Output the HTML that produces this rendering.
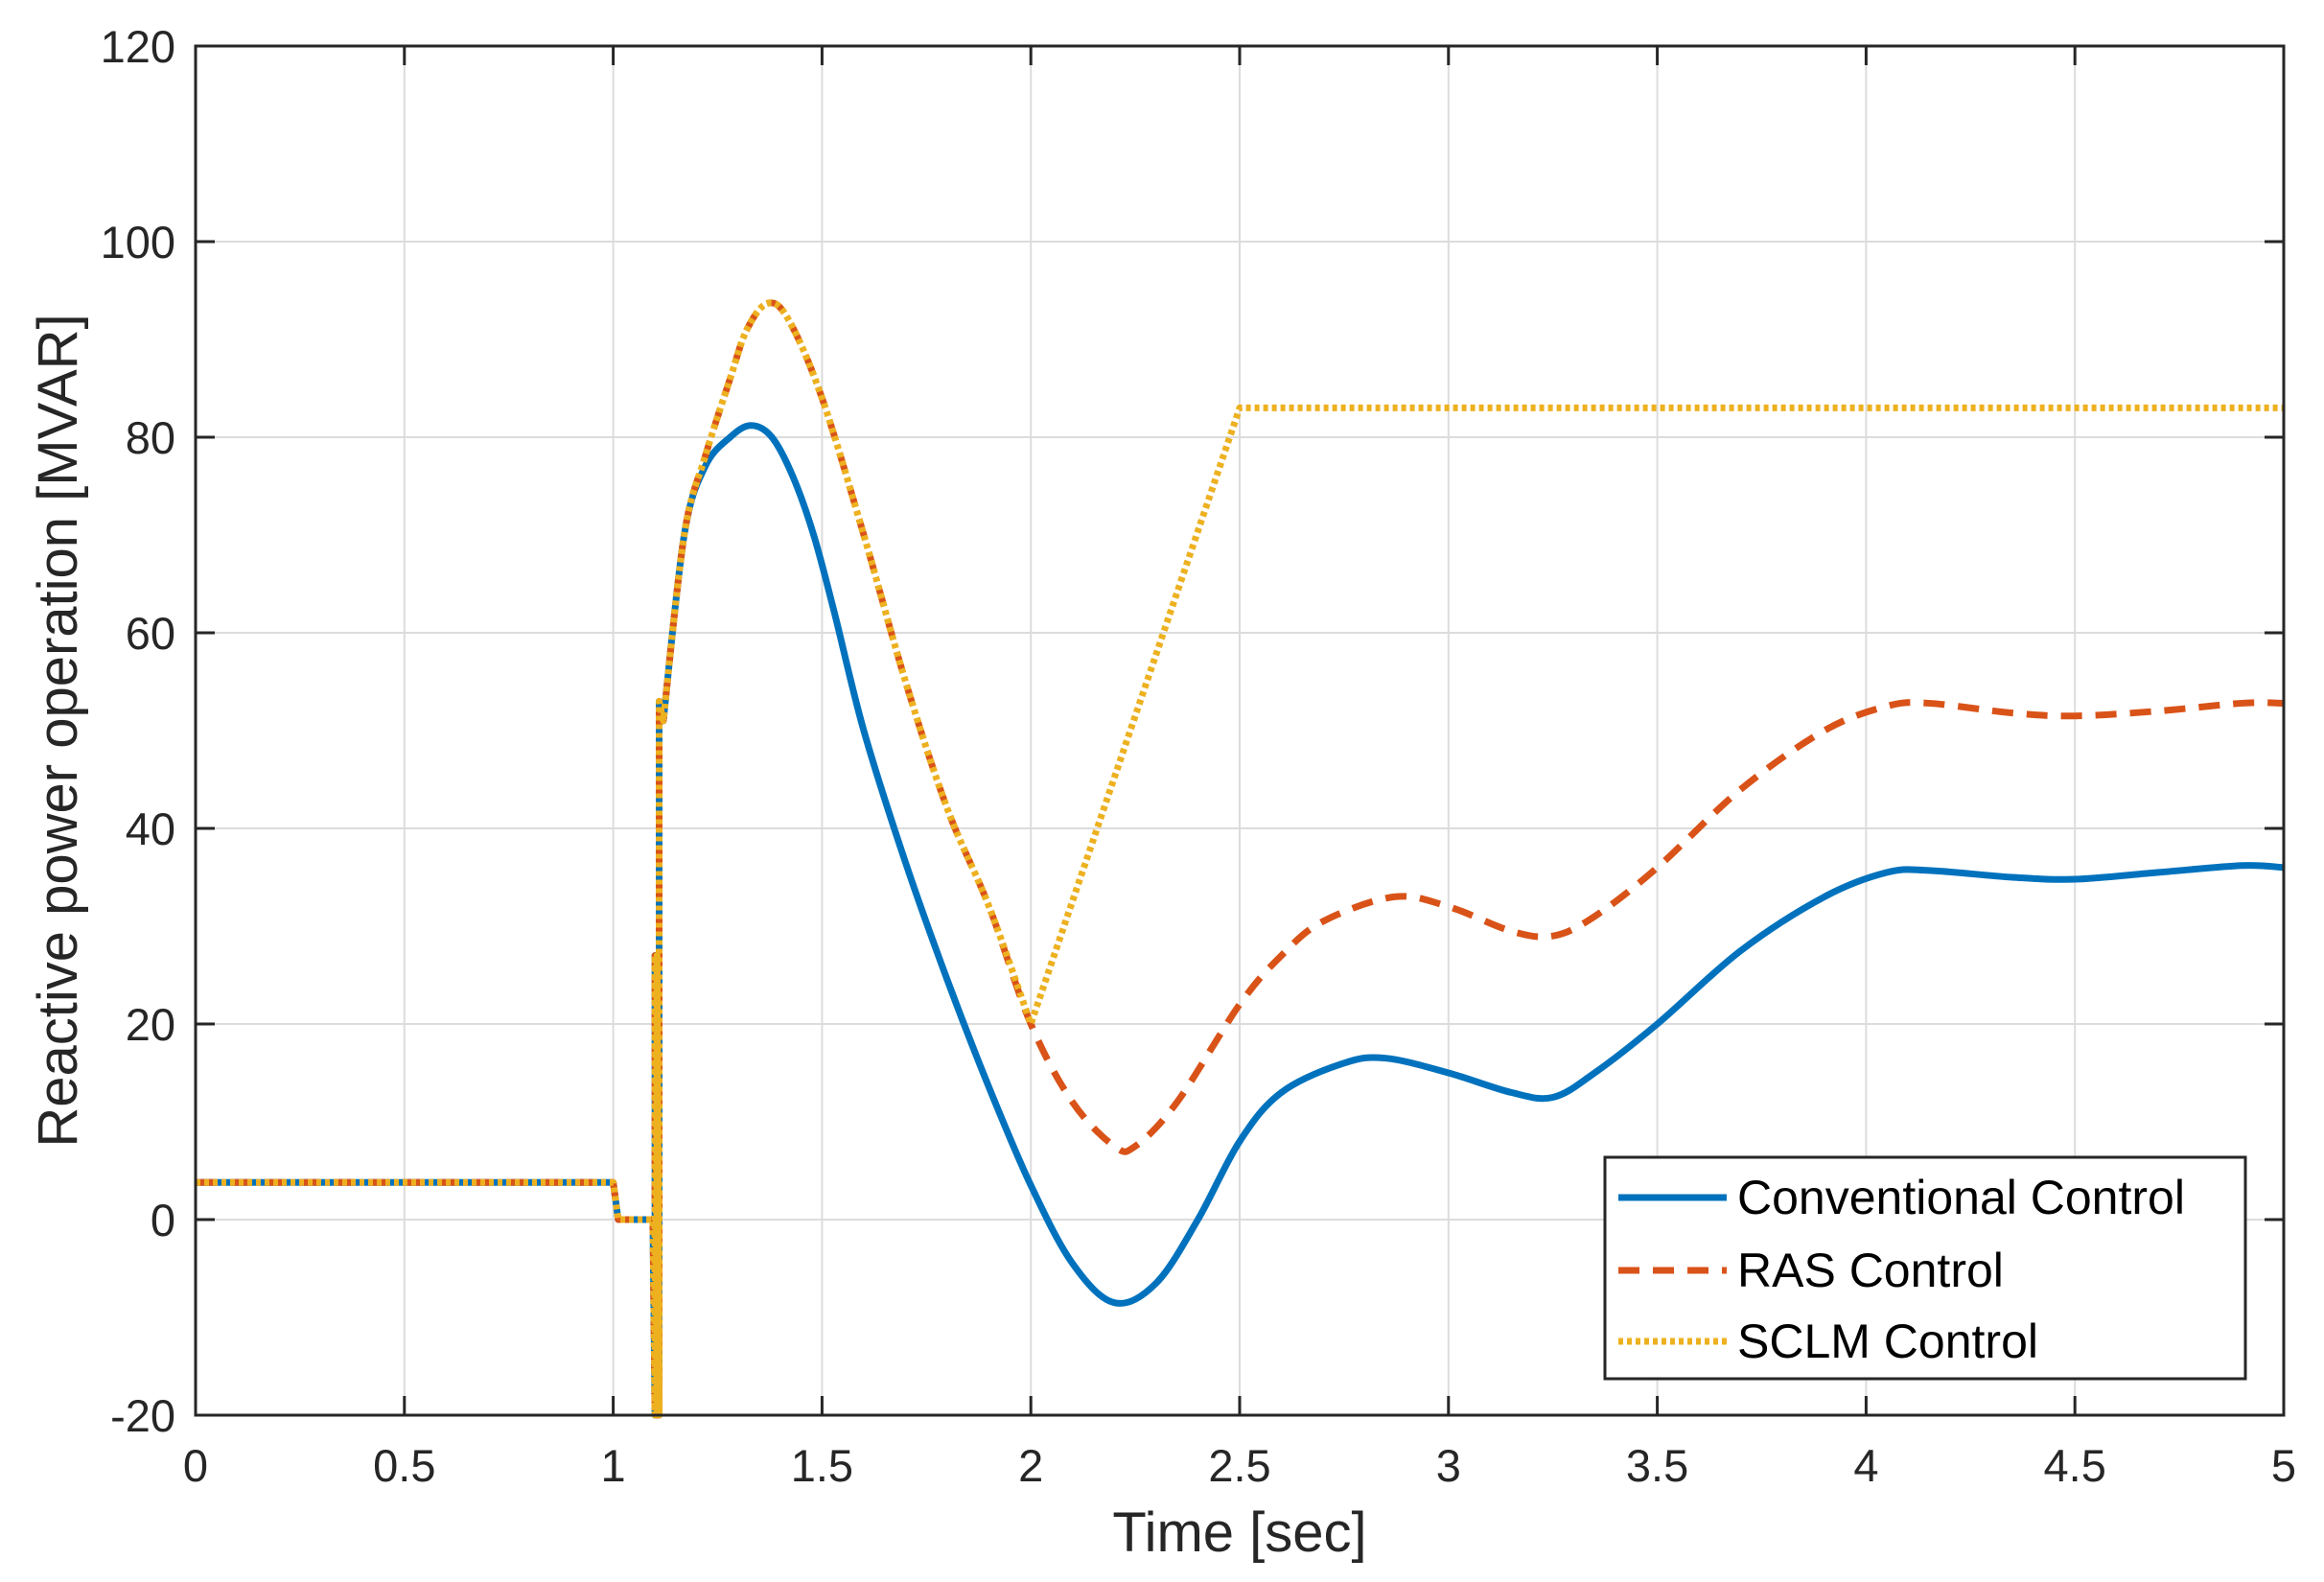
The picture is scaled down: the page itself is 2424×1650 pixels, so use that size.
<!DOCTYPE html>
<html><head><meta charset="utf-8"><style>
html,body{margin:0;padding:0;background:#fff;}
svg{display:block;font-family:"Liberation Sans",Arial,sans-serif;}
</style></head><body>
<svg id="s" width="2424" height="1650" viewBox="0 0 2424 1650" xmlns="http://www.w3.org/2000/svg">
<rect width="2424" height="1650" fill="#fff"/>
<g id="grid" stroke="#dcdcdc" stroke-width="2"></g>
<g id="ticks" stroke="#262626" stroke-width="3"></g>
<g id="labels" fill="#262626" font-size="47"></g>
<g id="series" fill="none" stroke-width="7" stroke-linejoin="round"></g>
<rect x="204" y="48" width="2178" height="1428" fill="none" stroke="#262626" stroke-width="3"/>
<g>
<rect x="1674" y="1207" width="668" height="231" fill="#fff" stroke="#262626" stroke-width="3"/>
<line x1="1688" y1="1249" x2="1801" y2="1249" stroke="#0072BD" stroke-width="7"/>
<line x1="1688" y1="1325" x2="1801" y2="1325" stroke="#D95319" stroke-width="7" stroke-dasharray="22,14"/>
<line x1="1688" y1="1399" x2="1801" y2="1399" stroke="#EDB120" stroke-width="7" stroke-dasharray="5,4"/>
<text x="1812" y="1266" font-size="50" fill="#000">Conventional Control</text>
<text x="1812" y="1342" font-size="50" fill="#000">RAS Control</text>
<text x="1812" y="1416" font-size="50" fill="#000">SCLM Control</text>
</g>
<text x="1293" y="1618" font-size="58" text-anchor="middle" fill="#262626">Time [sec]</text>
<text transform="translate(80,762) rotate(-90)" font-size="58" text-anchor="middle" fill="#262626">Reactive power operation [MVAR]</text>
</svg>
<script>
var L=204,R=2382,T=48,B=1476;
function X(t){return L+(R-L)*t/5;}
function Y(v){return T+(B-T)*(120-v)/140;}
var g=document.getElementById('grid'),tk=document.getElementById('ticks'),lb=document.getElementById('labels');
var ns="http://www.w3.org/2000/svg";
function el(p,n,a,txt){var e=document.createElementNS(ns,n);for(var k in a)e.setAttribute(k,a[k]);if(txt!==undefined)e.textContent=txt;p.appendChild(e);return e;}
for(var i=0;i<=10;i++){var t=i*0.5,x=X(t);
 if(i>0&&i<10)el(g,'line',{x1:x,y1:T,x2:x,y2:B});
 el(tk,'line',{x1:x,y1:B,x2:x,y2:B-20});el(tk,'line',{x1:x,y1:T,x2:x,y2:T+20});
 el(lb,'text',{x:x,y:1545,'text-anchor':'middle'},String(t));}
for(var v=-20;v<=120;v+=20){var y=Y(v);
 if(v>-20&&v<120)el(g,'line',{x1:L,y1:y,x2:R,y2:y});
 el(tk,'line',{x1:L,y1:y,x2:L+20,y2:y});el(tk,'line',{x1:R,y1:y,x2:R-20,y2:y});
 el(lb,'text',{x:183,y:y+17,'text-anchor':'end'},String(v));}
var pre=[[0,3.8],[1.0,3.8],[1.012,0],[1.095,0],[1.1,-20],[1.1,27],[1.105,-20],[1.105,27],[1.11,-20],[1.11,53],[1.12,51]];
function cr(pts){var d='';for(var i=0;i<pts.length-1;i++){var p0=pts[Math.max(0,i-1)],p1=pts[i],p2=pts[i+1],p3=pts[Math.min(pts.length-1,i+2)];
 var a=[X(p0[0]),Y(p0[1])],b=[X(p1[0]),Y(p1[1])],c=[X(p2[0]),Y(p2[1])],e=[X(p3[0]),Y(p3[1])];
 d+=' C'+(b[0]+(c[0]-a[0])/6)+','+(b[1]+(c[1]-a[1])/6)+' '+(c[0]-(e[0]-b[0])/6)+','+(c[1]-(e[1]-b[1])/6)+' '+c[0]+','+c[1];}return d;}
function path(p,smooth,tail){var d='M'+p.map(function(q){return X(q[0])+','+Y(q[1]);}).join(' L');d+=cr(smooth);if(tail)d+=' L'+tail.map(function(q){return X(q[0])+','+Y(q[1]);}).join(' L');return d;}
var blue=[[1.12,51],[1.17,70],[1.22,77],[1.28,80],[1.33,81.2],[1.38,80],[1.43,76],[1.48,70],[1.53,62],[1.6,50],[1.7,36.5],[1.8,24.5],[1.9,13.5],[2.0,3.5],[2.1,-4.5],[2.2,-8.5],[2.3,-6.5],[2.4,0],[2.5,8],[2.6,13],[2.75,16],[2.85,16.5],[3.0,15],[3.15,13],[3.25,12.5],[3.35,15],[3.5,20],[3.7,27.5],[3.9,33],[4.05,35.5],[4.15,35.7],[4.35,35],[4.5,34.8],[4.7,35.5],[4.9,36.2],[5,36]];
var redA=[[1.12,51],[1.17,70],[1.22,78],[1.28,86],[1.32,91],[1.37,93.7],[1.42,92],[1.5,84],[1.6,70],[1.7,55],[1.8,42],[1.9,32],[2.0,20]];
var red=redA.concat([[2.1,12],[2.2,7.5],[2.25,7.5],[2.35,12],[2.5,22],[2.6,27],[2.7,30.5],[2.87,33],[3.0,32],[3.15,29.5],[3.25,29],[3.35,31],[3.5,36],[3.7,44],[3.9,50],[4.05,52.5],[4.15,52.8],[4.35,51.8],[4.5,51.5],[4.7,52],[4.9,52.8],[5,52.8]]);
var s=document.getElementById('series');
el(s,'path',{d:path(pre,blue),stroke:'#0072BD'});
el(s,'path',{d:path(pre,red),stroke:'#D95319','stroke-dasharray':'22,14'});
el(s,'path',{d:path(pre,redA,[[2.5,83],[5,83]]),stroke:'#EDB120','stroke-dasharray':'5,4'});
</script>
</body></html>
